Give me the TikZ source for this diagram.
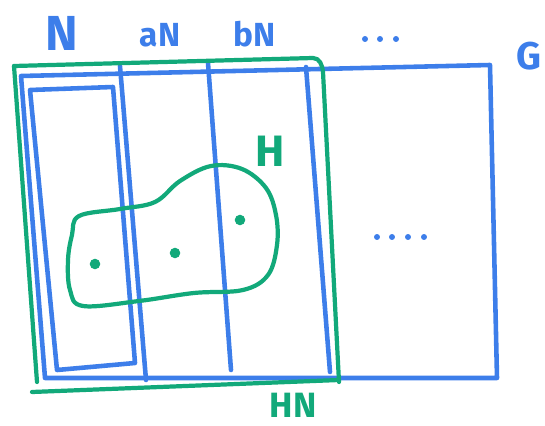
\documentclass[tikz,border=0pt]{standalone}
\usepackage{fontspec}
\setmainfont{Fira Sans}
\usetikzlibrary{positioning}
\definecolor{PenBlue} {HTML}{3D7EEA}
\definecolor{PenGreen}{HTML}{12A97A}
\tikzset{
  bline/.style={draw=PenBlue,line width=2.6pt,line cap=round,line join=round},
  gline/.style={draw=PenGreen,line width=2.4pt,line cap=round,line join=round},
  blab/.style={text=PenBlue,inner sep=0pt,font=\fontsize{#1}{#1}\selectfont\bfseries},
  glab/.style={text=PenGreen,inner sep=0pt,font=\fontsize{#1}{#1}\selectfont\bfseries},
  bdot/.style={circle,fill=PenBlue,inner sep=0pt,minimum size=3.4pt},
  gdot/.style={circle,fill=PenGreen,inner sep=0pt,minimum size=6pt},
}

\begin{document}
\begin{tikzpicture}[x=0.02cm,y=-0.02cm]
  \useasboundingbox (0,0) rectangle (545,426);

  % the group G and its cosets
  \draw[bline] (21,76) -- (490,65) -- (497,378) -- (45,378) -- cycle;
  \draw[bline] (30,90) -- (113,87) -- (135,363) -- (57,370) -- cycle;
  \draw[bline] (120,66) -- (146,380);
  \draw[bline] (208,63) -- (231,370);
  \draw[bline] (306,67) -- (330,372);

  % the product HN
  \draw[gline] (14,66) -- (313,58) to[out=0,in=95] (323,72) -- (339,382);
  \draw[gline] (14,66) -- (37,382);
  \draw[gline] (32,392) -- (339,380);

  % the subgroup H
  \draw[gline] plot[smooth cycle,tension=0.6] coordinates {
    (79,216) (120,209) (155,202) (180,181) (211,166) (242,169) (266,188)
    (276,215) (277,245) (268,275) (243,290) (194,293) (139,301) (83,306)
    (70,290) (68,260) (72,235)};
  \node[gdot] (h1) at (95,264) {};
  \node[gdot] (h2) at (175,253) {};
  \node[gdot] (h3) at (240,220) {};

  % labels
  \node[blab=28] (lblN)  at (62,33) {N};
  \node[blab=19] (lblaN) at (160,35) {aN};
  \node[blab=19] (lblbN) at (255,34) {bN};
  \node[blab=22,anchor=west] (lblG) at (516,56) {G};
  \node[glab=25] (lblH)  at (270,151) {H};
  \node[glab=20] (lblHN) at (293,405) {HN};

  \foreach \x [count=\i] in {365,380,396}
    \node[bdot] (tdot\i) at (\x,39) {};
  \foreach \x [count=\i] in {377,392,408,424}
    \node[bdot] (mdot\i) at (\x,237) {};

\end{tikzpicture}
\end{document}
